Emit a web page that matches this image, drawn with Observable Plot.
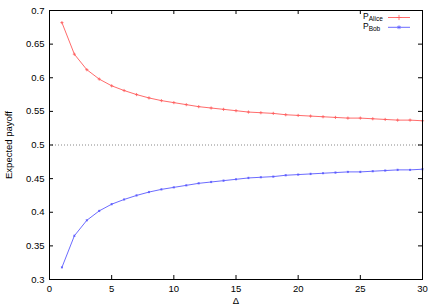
<!DOCTYPE html>
<html>
<head>
<meta charset="utf-8">
<script src="https://cdn.jsdelivr.net/npm/d3@7"></script>
<script src="https://cdn.jsdelivr.net/npm/@observablehq/plot@0.6"></script>
<style>
  html, body { margin: 0; padding: 0; background: #fff; }
  #wrap { position: relative; width: 436px; height: 305px; font-family: "Liberation Sans", Arial, sans-serif; }
  #legend { position: absolute; left: 0; top: 0; pointer-events: none; }
</style>
</head>
<body>
<div id="wrap"></div>
<script>
const delta = [1,2,3,4,5,6,7,8,9,10,11,12,13,14,15,16,17,18,19,20,21,22,23,24,25,26,27,28,29,30];
const pAlice = [0.682,0.635,0.612,0.598,0.588,0.581,0.575,0.570,0.566,0.563,0.560,0.557,0.555,0.553,0.551,0.549,0.548,0.547,0.545,0.544,0.543,0.542,0.541,0.540,0.540,0.539,0.538,0.537,0.537,0.536];
const pBob   = [0.318,0.365,0.388,0.402,0.412,0.419,0.425,0.430,0.434,0.437,0.440,0.443,0.445,0.447,0.449,0.451,0.452,0.453,0.455,0.456,0.457,0.458,0.459,0.460,0.460,0.461,0.462,0.463,0.463,0.464];
const xTicks = [0,5,10,15,20,25,30];
const yTicks = [0.3,0.35,0.4,0.45,0.5,0.55,0.6,0.65,0.7];
const seriesNames = ["Alice","Bob"];
const seriesColors = ["#ff5a5a","#5a5aff"];

const alice = delta.map((d,i)=>({d, v:pAlice[i]}));
const bob = delta.map((d,i)=>({d, v:pBob[i]}));

const W = 436, H = 305, mL = 49, mR = 14, mT = 10, mB = 26;
const innerH = H - mT - mB, innerW = W - mL - mR;
const tl = 4;

const chart = Plot.plot({
  width: W, height: H,
  marginLeft: mL, marginRight: mR, marginTop: mT, marginBottom: mB,
  style: {fontFamily: "'Liberation Sans', Arial, sans-serif", fontSize: "9.5px", background: "#fff", color: "#000"},
  x: {domain: [0,30]},
  y: {domain: [0.3,0.7]},
  marks: [
    Plot.ruleY([0.5], {stroke: "#888", strokeWidth: 1, strokeDasharray: "1,2"}),
    Plot.tickX(xTicks, {x: d=>d, insetTop: innerH - tl, stroke: "#000"}),
    Plot.tickX(xTicks, {x: d=>d, insetBottom: innerH - tl, stroke: "#000"}),
    Plot.tickY(yTicks, {y: d=>d, insetRight: innerW - tl, stroke: "#000"}),
    Plot.tickY(yTicks, {y: d=>d, insetLeft: innerW - tl, stroke: "#000"}),
    Plot.line(alice, {x:"d", y:"v", stroke: seriesColors[0], strokeWidth: 0.9}),
    Plot.dot(alice, {x:"d", y:"v", symbol: "plus", r: 1.1, stroke: seriesColors[0], strokeWidth: 0.8}),
    Plot.line(bob, {x:"d", y:"v", stroke: seriesColors[1], strokeWidth: 0.9}),
    Plot.dot(bob, {x:"d", y:"v", symbol: "asterisk", r: 1.1, stroke: seriesColors[1], strokeWidth: 0.8}),
    Plot.axisX({ticks: xTicks, tickSize: 0, tickPadding: 6, label: "Δ", labelAnchor: "center", labelArrow: "none", labelOffset: 24, tickFormat: d3.format("d")}),
    Plot.axisY({ticks: yTicks, tickSize: 0, tickPadding: 5, label: "Expected payoff", labelAnchor: "center", labelArrow: "none", labelOffset: 44, tickFormat: d=>String(+d.toFixed(2))}),
    Plot.frame({stroke: "#000", strokeWidth: 1})
  ]
});

const wrap = document.getElementById("wrap");
wrap.appendChild(chart);

// legend (gnuplot-style key, top right inside the frame)
const lg = d3.select(wrap).append("svg").attr("id","legend").attr("width", W).attr("height", H);
const keyX = 363, keyY0 = 17.5, keyDy = 9.8, sampleX1 = 388, sampleX2 = 410;
seriesNames.forEach((name, i) => {
  const y = keyY0 + i * keyDy;
  const t = lg.append("text")
    .attr("x", keyX).attr("y", y + 1.5)
    .attr("font-family", "'Liberation Sans', Arial, sans-serif")
    .attr("font-size", 8.5).attr("fill", "#000");
  t.append("tspan").text("P");
  t.append("tspan").attr("dy", 2).attr("font-size", 6.5).text(name);
  lg.append("line").attr("x1", sampleX1).attr("x2", sampleX2).attr("y1", y).attr("y2", y)
    .attr("stroke", seriesColors[i]).attr("stroke-width", 0.9);
  const sym = i === 0 ? d3.symbolPlus : d3.symbolAsterisk;
  lg.append("path").attr("d", d3.symbol(sym, 10)()).attr("transform", `translate(${(sampleX1+sampleX2)/2},${y})`)
    .attr("fill", "none").attr("stroke", seriesColors[i]).attr("stroke-width", 0.8);
});
</script>
</body>
</html>
